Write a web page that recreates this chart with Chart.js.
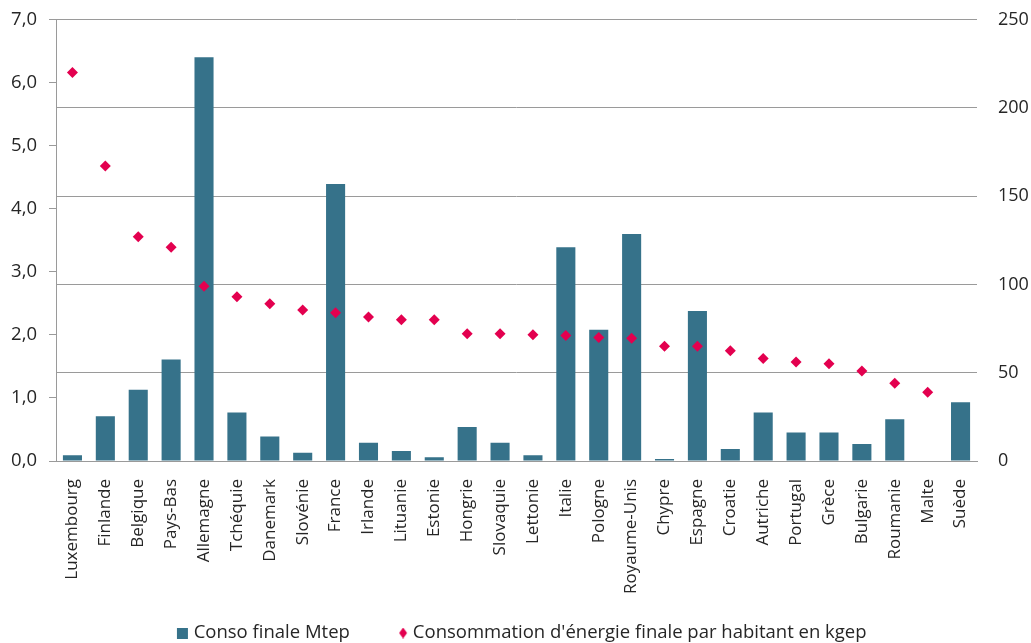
<!DOCTYPE html>
<html>
<head>
<meta charset="utf-8">
<script src="https://cdn.jsdelivr.net/npm/chart.js@4/dist/chart.umd.min.js"></script>
<style>
  html, body { margin: 0; padding: 0; background: #fff; }
  #wrap { width: 1031px; height: 643px; }
</style>
</head>
<body>
<div id="wrap"><canvas id="graficoConso" width="1031" height="643"></canvas></div>
<script>
const pays = ['Luxembourg', 'Finlande', 'Belgique', 'Pays-Bas', 'Allemagne', 'Tchéquie', 'Danemark',
  'Slovénie', 'France', 'Irlande', 'Lituanie', 'Estonie', 'Hongrie', 'Slovaquie', 'Lettonie',
  'Italie', 'Pologne', 'Royaume-Unis', 'Chypre', 'Espagne', 'Croatie', 'Autriche', 'Portugal',
  'Grèce', 'Bulgarie', 'Roumanie', 'Malte', 'Suède'];

// consommation finale en Mtep (axe de gauche)
const consoMtep = [0.09, 0.71, 1.13, 1.61, 6.40, 0.77, 0.39, 0.13, 4.39, 0.29, 0.16, 0.06, 0.54, 0.29,
  0.09, 3.39, 2.08, 3.60, 0.03, 2.38, 0.19, 0.77, 0.45, 0.45, 0.27, 0.66, 0, 0.93];

// consommation par habitant en kgep (axe de droite)
const parHabitant = [220, 167, 127, 121, 99, 93, 89, 85.5, 84, 81.5, 80, 80, 72, 72,
  71.5, 71, 70, 69.5, 65, 65, 62.5, 58, 56, 55, 51, 44, 39, null];

const ticksGauche = [0, 1, 2, 3, 4, 5, 6, 7];
const ticksDroite = [0, 50, 100, 150, 200, 250];

const bleu = '#36728a';
const rouge = '#e3004f';
const gris = '#9a9a9a';

Chart.defaults.font.family = "'Open Sans', sans-serif";
Chart.defaults.font.size = 17;
Chart.defaults.color = '#262626';

// marqueurs de légende : le symbole est calé à droite de sa case
const largeurCase = 34;
const largeurImage = 43;
function marqueCarre() {
  const c = document.createElement('canvas');
  c.width = largeurImage; c.height = 11;
  const ctx = c.getContext('2d');
  ctx.fillStyle = bleu;
  ctx.fillRect(largeurImage - 12, 0, 11, 11);
  return c;
}
function marqueLosange() {
  const c = document.createElement('canvas');
  c.width = largeurImage; c.height = 11;
  const ctx = c.getContext('2d');
  const x0 = largeurImage - 9;
  ctx.fillStyle = rouge;
  ctx.beginPath();
  ctx.moveTo(x0 + 4, 0); ctx.lineTo(x0 + 8, 5.5); ctx.lineTo(x0 + 4, 11); ctx.lineTo(x0, 5.5);
  ctx.closePath();
  ctx.fill();
  return c;
}
const carre = marqueCarre();
const losange = marqueLosange();

// les axes verticaux ne doivent pas réserver de marge en haut
function sansMarge(scale, largeur) {
  scale.width = largeur;
  scale.paddingTop = 0;
  scale.paddingBottom = 0;
}

const graficoConso = new Chart(document.querySelector('#graficoConso'), {
  data: {
    labels: pays,
    datasets: [{
      type: 'line',
      label: "Consommation d'énergie finale par habitant en kgep",
      data: parHabitant,
      yAxisID: 'y1',
      showLine: false,
      pointStyle: 'rectRot',
      pointRadius: 5.5,
      pointBackgroundColor: rouge,
      pointBorderWidth: 0,
      borderColor: rouge,
      backgroundColor: rouge
    }, {
      type: 'bar',
      label: 'Conso finale Mtep',
      data: consoMtep,
      yAxisID: 'y',
      backgroundColor: bleu,
      borderWidth: 0,
      categoryPercentage: 1,
      barPercentage: 0.58
    }]
  },
  options: {
    responsive: false,
    animation: false,
    layout: { padding: { top: 19.5, left: -14, right: 0, bottom: -9.25 } },
    plugins: {
      tooltip: { enabled: false },
      legend: {
        position: 'bottom',
        reverse: true,
        labels: {
          usePointStyle: true,
          boxHeight: 11,
          pointStyleWidth: largeurCase,
          padding: 19.75,
          font: { size: 18.5 },
          generateLabels: (chart) => {
            const items = Chart.defaults.plugins.legend.labels.generateLabels(chart);
            items.forEach((item) => {
              item.pointStyle = item.datasetIndex === 1 ? carre : losange;
            });
            return items;
          }
        }
      }
    },
    scales: {
      x: {
        grid: { display: false },
        border: { display: true, color: gris, width: 1 },
        ticks: { minRotation: 90, maxRotation: 90, autoSkip: false, padding: 10 },
        afterFit: (scale) => { scale.height = 143; }
      },
      y: {
        position: 'left',
        min: 0,
        max: 7,
        afterBuildTicks: (scale) => { scale.ticks = ticksGauche.map((v) => ({ value: v })); },
        ticks: {
          padding: 12,
          font: { size: 18.5 },
          callback: (v) => v.toFixed(1).replace('.', ',')
        },
        grid: { drawOnChartArea: false, drawTicks: true, tickLength: 7, color: gris },
        border: { display: true, color: gris, width: 1 },
        afterFit: (scale) => sansMarge(scale, 70)
      },
      y1: {
        position: 'right',
        min: 0,
        max: 250,
        afterBuildTicks: (scale) => { scale.ticks = ticksDroite.map((v) => ({ value: v })); },
        ticks: { padding: 21, font: { size: 18 } },
        grid: { drawOnChartArea: true, drawTicks: false, color: gris, lineWidth: 1 },
        border: { display: false },
        afterFit: (scale) => sansMarge(scale, 54)
      }
    }
  }
});
</script>
</body>
</html>
